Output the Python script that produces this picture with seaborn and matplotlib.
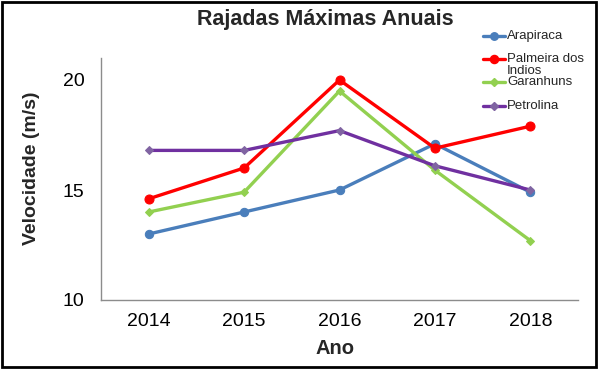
import matplotlib
matplotlib.use('Agg')
import matplotlib.pyplot as plt
from matplotlib.lines import Line2D
from matplotlib.patches import Rectangle
import seaborn as sns

# Data
years = [2014, 2015, 2016, 2017, 2018]
arapiraca = [13.0, 14.0, 15.0, 17.1, 14.9]
palmeira = [14.6, 16.0, 20.0, 16.9, 17.9]
garanhuns = [14.0, 14.9, 19.5, 15.9, 12.7]
petrolina = [16.8, 16.8, 17.7, 16.1, 15.0]
legend_labels = ['Arapiraca', 'Palmeira dos\nIndios', 'Garanhuns', 'Petrolina']

sns.set_style('white')
plt.rcParams['font.family'] = ['Liberation Sans', 'DejaVu Sans']

W, H = 599, 369
fig = plt.figure(figsize=(W / 100, H / 100), dpi=100)
ax = fig.add_axes([101 / W, (H - 300) / H, (578 - 101) / W, (300 - 58) / H])

# (values, line colour, marker, marker colour, marker size)
series = [
    (arapiraca, '#4A7EBB', 'o', '#4A7EBB', 6),
    (palmeira, '#FF0000', 'o', '#FF0000', 6.5),
    (garanhuns, '#92D050', 'D', '#92D050', 4),
    (petrolina, '#7030A0', 'D', '#8064A2', 4),
]

for vals, col, mk, mcol, ms in series:
    sns.lineplot(x=years, y=vals, color=col, linewidth=2.4, marker=mk,
                 markersize=ms, markerfacecolor=mcol, markeredgecolor=mcol,
                 ax=ax, legend=False)

ax.set_xlim(2013.5, 2018.5)
ax.set_ylim(10, 21)
ax.set_xticks(years)
ax.set_xticklabels([str(y) for y in years])
ax.set_yticks([10, 15, 20])

for side in ['top', 'right']:
    ax.spines[side].set_visible(False)
for side in ['left', 'bottom']:
    ax.spines[side].set_color('#8C8C8C')
    ax.spines[side].set_linewidth(1)

ax.tick_params(axis='y', direction='inout', length=8, width=1, color='#8C8C8C',
               labelsize=14, pad=8, labelcolor='black')
ax.tick_params(axis='x', length=0, labelsize=14, pad=9, labelcolor='black')

ax.set_xlabel('')
ax.set_ylabel('')
fig.text(335 / W, 1 - 349 / H, 'Ano', ha='center', va='center',
         fontsize=14.5, fontweight='bold')
fig.text(32 / W, 1 - 168 / H, 'Velocidade (m/s)', ha='center', va='center',
         rotation=90, fontsize=14, fontweight='bold')
fig.text(325 / W, 1 - 20 / H, 'Rajadas Máximas Anuais', ha='center',
         va='center', fontsize=15.5, fontweight='bold')

# legend drawn by hand (handle sits on the first text line)
leg_y = [36, 59, 82, 106]
for (vals, col, mk, mcol, ms), lab, yy in zip(series, legend_labels, leg_y):
    yf = 1 - yy / H
    fig.add_artist(Line2D([483 / W, 494 / W, 505 / W], [yf, yf, yf],
                          color=col, linewidth=2.4, marker=mk,
                          markersize=ms * 0.9, markerfacecolor=mcol,
                          markeredgecolor=mcol, markevery=[1]))
    for k, part in enumerate(lab.split('\n')):
        fig.text(507 / W, 1 - (yy + 12 * k) / H, part, ha='left',
                 va='center', fontsize=9.5)

# black frame around the whole picture
fig.add_artist(Rectangle((1.5 / W, 2 / H), (596 - 1.5) / W, (367 - 2) / H,
                         transform=fig.transFigure, fill=False,
                         edgecolor='black', linewidth=2))

fig.savefig('out.png', dpi=100)
